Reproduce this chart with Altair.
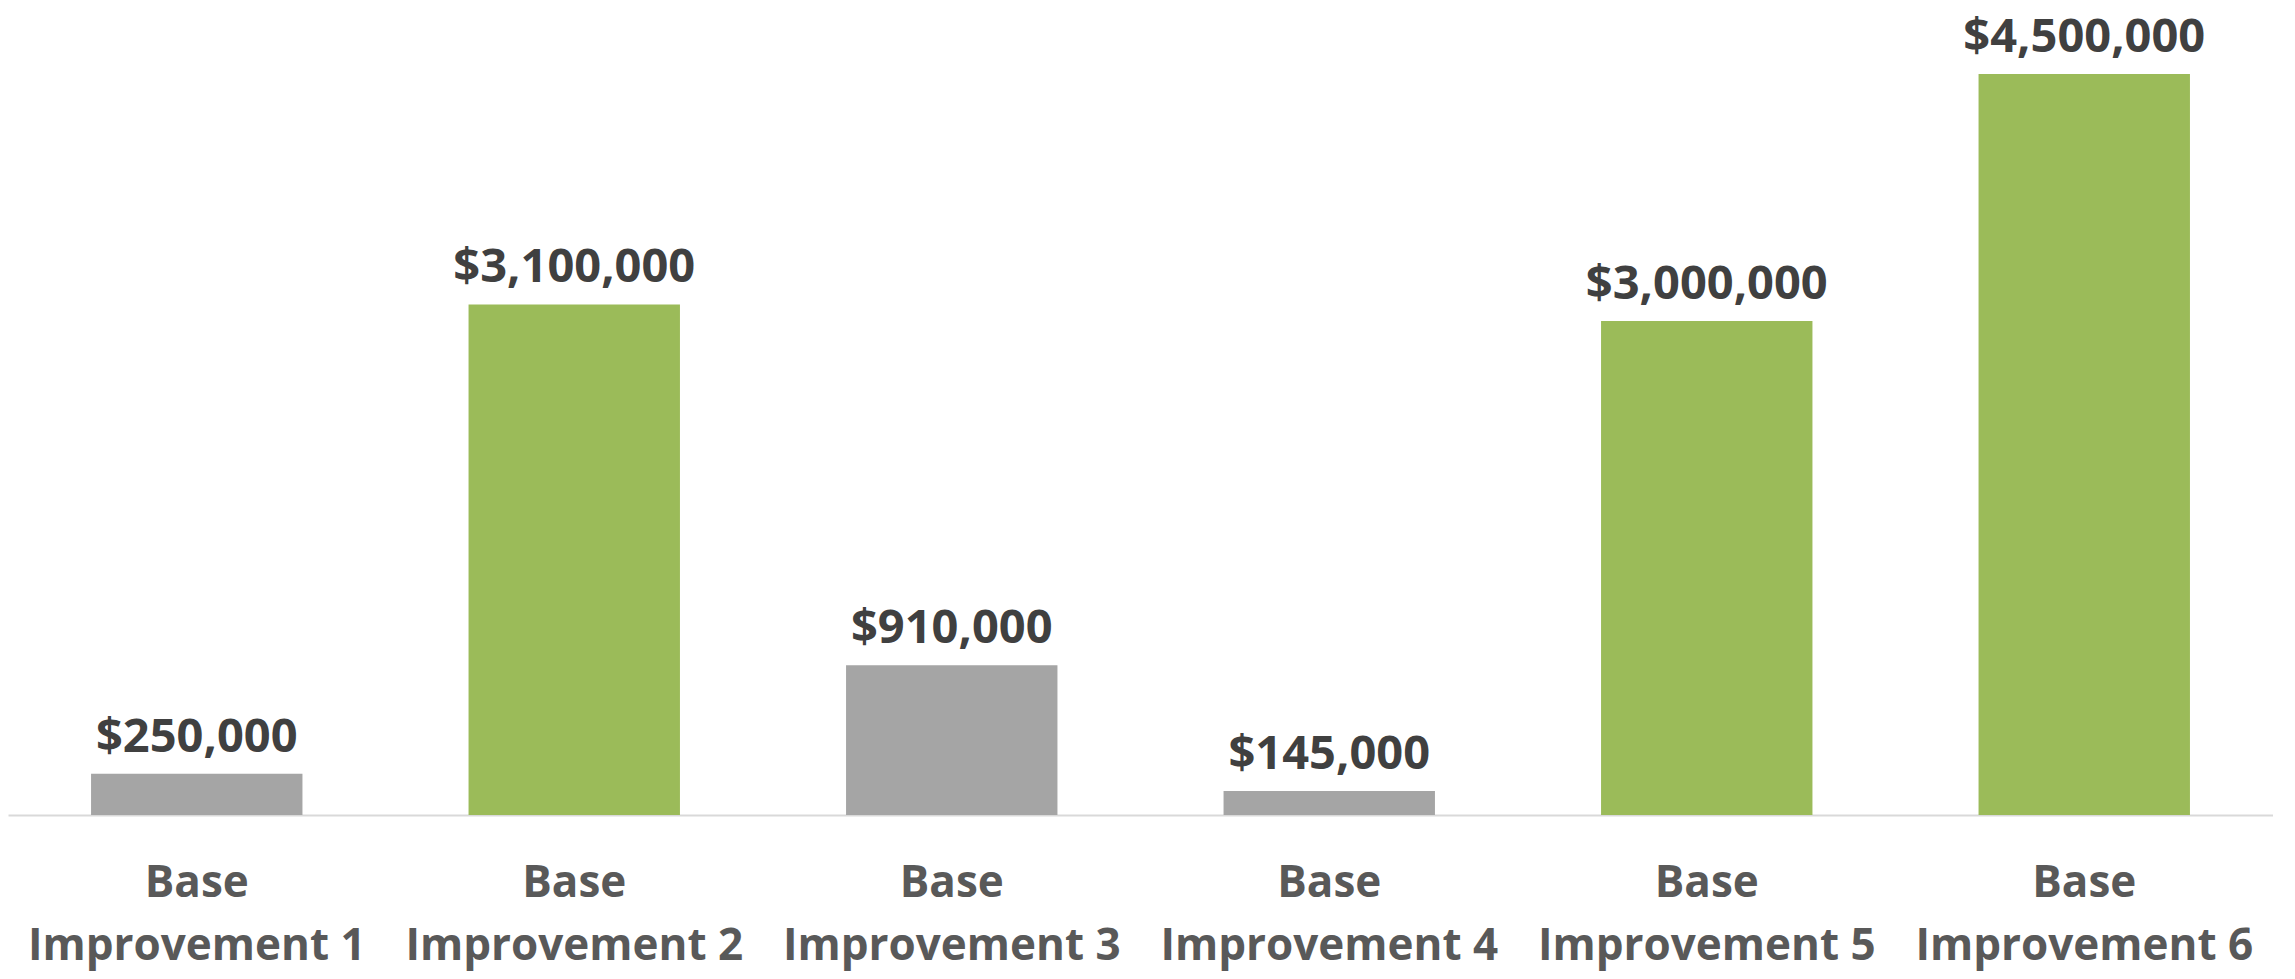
import altair as alt
import pandas as pd

categories = ["Base|Improvement 1", "Base|Improvement 2", "Base|Improvement 3",
              "Base|Improvement 4", "Base|Improvement 5", "Base|Improvement 6"]
values = [250000, 3100000, 910000, 145000, 3000000, 4500000]
groups = ["minor", "major", "minor", "minor", "major", "major"]

df = pd.DataFrame({"category": categories, "value": values, "group": groups})

FONT = "Open Sans"

x = alt.X("category:N", sort=categories, title=None,
          scale=alt.Scale(paddingInner=0.44, paddingOuter=0.22),
          axis=alt.Axis(labelExpr="split(datum.label, '|')", labelAngle=0,
                        labelFont=FONT, labelFontWeight="bold", labelFontSize=44,
                        labelColor="#595959", labelLineHeight=63,
                        labelBaseline="top", labelPadding=46, labelLimit=0,
                        labelOverlap=False,
                        ticks=False, domainColor="#D9D9D9", domainWidth=2,
                        grid=False))
y = alt.Y("value:Q", title=None,
          scale=alt.Scale(domain=[0, 4870000], nice=False),
          axis=None)

base = alt.Chart(df)
bars = base.mark_bar().encode(
    x=x, y=y,
    color=alt.Color("group:N", legend=None,
                    scale=alt.Scale(domain=["minor", "major"], range=["#A5A5A5", "#9BBB59"])),
)
labels = base.mark_text(dy=-22, baseline="alphabetic", font=FONT, fontWeight="bold",
                        fontSize=47, color="#404040").encode(
    x=x, y=y, text=alt.Text("value:Q", format="$,.0f"))

chart = (bars + labels).properties(
    width=2265, height=802,
    padding={"left": 0, "right": 0, "top": 5, "bottom": 6},
).configure(background="white").configure_view(stroke=None)

chart.save("out.html", embed_options={"renderer": "svg", "actions": False})
